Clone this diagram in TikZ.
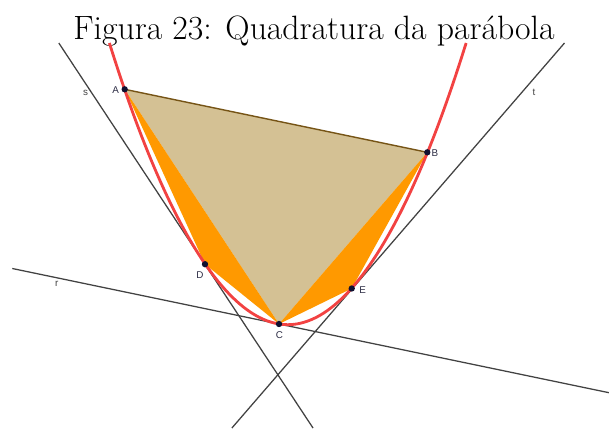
\documentclass[tikz,border=0pt]{standalone}
\usepackage{fontspec}
\newfontfamily\rotulofont{Liberation Sans}
\usepackage{xcolor}
\usepackage{tikz}
\usetikzlibrary{positioning, calc}
\definecolor{vermelho}{RGB}{242,66,66}
\definecolor{cinza}{RGB}{66,66,66}
\definecolor{bege}{RGB}{212,193,148}
\definecolor{laranja}{RGB}{255,153,0}
\definecolor{marrom}{RGB}{118,84,22}
\definecolor{azulesc}{RGB}{16,16,48}
\tikzset{
    reta/.style    = {draw=cinza, line width=0.9pt},
    parab/.style   = {draw=vermelho, line width=2pt},
    tri/.style     = {fill=bege},
    seg/.style     = {fill=laranja},
    lado/.style    = {draw=marrom, line width=1pt},
    ponto/.style   = {circle, fill=azulesc, inner sep=0pt, minimum size=4.5pt},
    rot/.style     = {font=\rotulofont\fontsize{7}{8}\selectfont, text=azulesc!75!gray, inner sep=0pt},
    rotreta/.style = {font=\rotulofont\fontsize{7}{8}\selectfont, text=cinza, inner sep=0pt},
}

\begin{document}
\begin{tikzpicture}[x=0.025cm, y=-0.025cm]
    \useasboundingbox (0,0) rectangle (609,428);
    % pontos sobre a parábola
    \coordinate (A) at (124.7,89.3);
    \coordinate (B) at (427.3,152.3);
    \coordinate (C) at (279,324);
    \coordinate (D) at (205,264.2);
    \coordinate (E) at (351.7,288.5);
    \coordinate (V) at (287.76,324.68);
    \coordinate (pe) at (109.38,43);
    \coordinate (pd) at (466.14,43);
    % extremos das retas
    \coordinate (r1) at (12.3,268.5);
    \coordinate (r2) at (609,392.7);
    \coordinate (s1) at (58.8,43);
    \coordinate (s2) at (313,428);
    \coordinate (t1) at (564.5,43);
    \coordinate (t2) at (231.9,428);
    % título
    \node[anchor=base, font=\fontsize{24}{28}\selectfont, inner sep=0pt] (titulo) at (314,39)
        {Figura 23: Quadratura da parábola};
    % triângulos
    \fill[tri] (A) -- (B) -- (C) -- cycle;
    \fill[seg] (A) -- (D) -- (C) -- cycle;
    \fill[seg] (C) -- (E) -- (B) -- cycle;
    % retas r, s, t
    \draw[reta] (r1) -- (r2);
    \draw[reta] (s1) -- (s2);
    \draw[reta] (t1) -- (t2);
    % parábola
    \draw[parab] (pe) parabola bend (V) (pd);
    \draw[lado] (A) -- (B);
    % pontos e rótulos
    \foreach \p in {A,B,C,D,E}
        \node[ponto] (n\p) at (\p) {};
    \node[rot] (lA) at (115.7,90) {A};
    \node[rot] (lB) at (435,152.7) {B};
    \node[rot] (lC) at (279.3,335.3) {C};
    \node[rot] (lD) at (200,275.3) {D};
    \node[rot] (lE) at (362.7,290.3) {E};
    \node[rotreta] (lr) at (56.7,284.3) {r};
    \node[rotreta] (ls) at (85.7,92.7) {s};
    \node[rotreta] (lt) at (534,92.7) {t};
\end{tikzpicture}
\end{document}
